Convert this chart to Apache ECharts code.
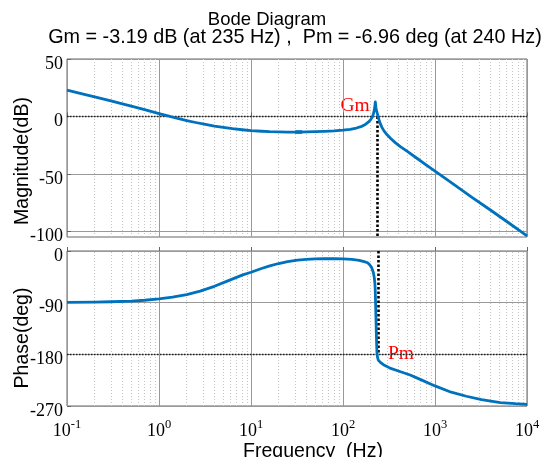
<!DOCTYPE html>
<html>
<head>
<meta charset="utf-8">
<script src="https://cdn.jsdelivr.net/npm/echarts@6/dist/echarts.min.js"></script>
<style>html,body{margin:0;padding:0;background:#fff;}#c{width:543px;height:457px;}</style>
</head>
<body>
<div id="c"></div>
<script>
// ---- data ----
const magFreq = [0.1, 0.15, 0.2, 0.3, 0.4, 0.5, 0.65, 0.8, 1.0, 1.25, 1.6, 2.0, 2.5, 3.2, 4.0, 5.0, 6.3, 8.0, 10, 13, 16, 20, 25, 32, 40, 50, 63, 80, 100, 120, 140, 160, 175, 190, 200, 208, 214, 218, 221, 223, 224.5, 226, 228, 231, 235, 240, 246, 255, 265, 280, 300, 330, 370, 420, 500, 630, 800, 1000, 1600, 2500, 4000, 6300, 10000];
const magDb   = [22.9, 19.5, 17.0, 13.5, 11.0, 9.0, 6.6, 4.6, 2.5, 0.4, -1.8, -3.6, -5.3, -7.0, -8.4, -9.6, -10.7, -11.6, -12.3, -12.9, -13.3, -13.5, -13.6, -13.6, -13.5, -13.3, -13.0, -12.6, -12.0, -11.2, -10.1, -8.6, -7.0, -4.8, -2.8, -0.5, 2.2, 4.8, 7.5, 10.5, 12.6, 10.5, 8.0, 5.5, 3.2, 0.3, -2.8, -6.5, -9.5, -12.8, -15.8, -19.2, -22.8, -26.3, -30.5, -36.2, -42.2, -47.7, -59.2, -70.2, -81.5, -92.6, -104];
const phaseFreq = [0.1, 0.2, 0.3, 0.5, 0.7, 1.0, 1.4, 2.0, 2.8, 4.0, 5.6, 8.0, 10, 13, 16, 20, 25, 32, 40, 50, 63, 80, 100, 125, 150, 170, 185, 195, 205, 214, 219, 222, 224, 226, 228, 230, 232, 234, 237, 242, 255, 275, 300, 324, 400, 537, 700, 1000, 1500, 2190, 3200, 5130, 7500, 10000];
const phaseDeg  = [-89.5, -89, -88.4, -87.2, -85.8, -83.5, -80.5, -76, -70, -61.5, -52, -42, -37, -30.5, -26, -21.8, -18.5, -16, -14.5, -13.7, -13.4, -13.5, -13.8, -14.6, -16.2, -18.5, -20.5, -24, -29, -38, -47, -56, -67, -90, -115, -140, -162, -177, -185, -190, -194, -198, -201, -204, -209, -216, -224, -235, -246, -253, -259, -264, -266, -267];
const magTicks = [50, 0, -50, -100];
const phaseTicks = [0, -90, -180, -270];
const freqTicks = [0.1, 1, 10, 100, 1000, 10000];
const gmFreq = 235;   // Hz
const pmFreq = 240;   // Hz
const markerPoint = [33, -13.6];
const titleLine1 = 'Bode Diagram';
const titleLine2 = 'Gm = -3.19 dB (at 235 Hz) ,  Pm = -6.96 deg (at 240 Hz)';

// ---- helpers ----
const minorFreqs = [];
for (let e = -1; e < 4; e++) for (let k = 2; k <= 9; k++) minorFreqs.push(k * Math.pow(10, e));
const minorLines = minorFreqs.map(v => ({ xAxis: v }));
const blue = '#0072BD';
const serif = 'Liberation Serif';

function xAxisCfg(idx, showLabels) {
  return {
    type: 'log', logBase: 10, gridIndex: idx, min: 0.1, max: 10000,
    axisLine: { show: false },
    axisTick: { show: true, inside: true, length: 4, lineStyle: { color: '#666' } },
    splitLine: { show: true, lineStyle: { color: '#999', width: 1 } },
    axisLabel: {
      show: showLabels, margin: 12,
      formatter: v => '{b|10}{s|' + Math.round(Math.log10(v)) + '}',
      rich: {
        b: { fontFamily: serif, fontSize: 18, color: '#000', lineHeight: 22, verticalAlign: 'bottom' },
        s: { fontFamily: serif, fontSize: 12.5, color: '#000', lineHeight: 12, verticalAlign: 'top' }
      }
    }
  };
}
function yLabel(ticks) {
  const o = {
    margin: 4,
    formatter: v => '{a|' + v + '}',
    rich: { a: { fontFamily: serif, fontSize: 18, color: '#000', padding: [10, 0, 0, 0] } }
  };
  if (ticks) o.customValues = ticks;
  return o;
}

const option = {
  animation: false,
  backgroundColor: '#fff',
  grid: [
    { left: 67, top: 59, width: 460, height: 178, show: true, borderColor: '#666', borderWidth: 1, backgroundColor: '#fff' },
    { left: 67, top: 251, width: 460, height: 155, show: true, borderColor: '#666', borderWidth: 1, backgroundColor: '#fff' }
  ],
  xAxis: [xAxisCfg(0, false), xAxisCfg(1, true)],
  yAxis: [
    {
      type: 'value', gridIndex: 0, min: -105, max: 50,
      axisLine: { show: false },
      axisTick: { show: true, inside: true, length: 4, customValues: magTicks, lineStyle: { color: '#666' } },
      axisLabel: yLabel(magTicks),
      splitLine: { show: true, lineStyle: { color: '#999' } }
    },
    {
      type: 'value', gridIndex: 1, min: -270, max: 0, interval: 90,
      axisLine: { show: false },
      axisTick: { show: true, inside: true, length: 4, lineStyle: { color: '#666' } },
      axisLabel: yLabel(null),
      splitLine: { show: true, lineStyle: { color: '#999' } }
    }
  ],
  graphic: [
    { type: 'text', x: 267, y: 10, style: { text: titleLine1, font: '18.5px "Liberation Sans"', fill: '#000', textAlign: 'center', textVerticalAlign: 'top' } },
    { type: 'text', x: 295, y: 28, style: { text: titleLine2, font: '19.8px "Liberation Sans"', fill: '#000', textAlign: 'center', textVerticalAlign: 'top' } },
    { type: 'text', x: 313, y: 442, style: { text: 'Frequency  (Hz)', font: '19.5px "Liberation Sans"', fill: '#000', textAlign: 'center', textVerticalAlign: 'top' } },
    { type: 'text', x: 23, y: 161, rotation: Math.PI / 2, style: { text: 'Magnitude(dB)', font: '19.5px "Liberation Sans"', fill: '#000', textAlign: 'center', textVerticalAlign: 'middle' } },
    { type: 'text', x: 23, y: 338, rotation: Math.PI / 2, style: { text: 'Phase(deg)', font: '19.5px "Liberation Sans"', fill: '#000', textAlign: 'center', textVerticalAlign: 'middle' } },
    { type: 'text', x: 355, y: 106, style: { text: 'Gm', font: '19.5px "Liberation Serif"', fill: '#ff0000', textAlign: 'center', textVerticalAlign: 'middle' } },
    { type: 'text', x: 401, y: 354, style: { text: 'Pm', font: '19.5px "Liberation Serif"', fill: '#ff0000', textAlign: 'center', textVerticalAlign: 'middle' } }
  ],
  series: [
    {
      type: 'line', xAxisIndex: 0, yAxisIndex: 0, z: 2, silent: true, symbol: 'none',
      data: [],
      markLine: { silent: true, symbol: 'none', label: { show: false },
        lineStyle: { color: '#c4c4c4', type: [1, 2], width: 1 }, data: minorLines }
    },
    {
      type: 'line', xAxisIndex: 1, yAxisIndex: 1, z: 2, silent: true, symbol: 'none',
      data: [],
      markLine: { silent: true, symbol: 'none', label: { show: false },
        lineStyle: { color: '#c4c4c4', type: [1, 2], width: 1 }, data: minorLines }
    },
    {
      type: 'line', xAxisIndex: 0, yAxisIndex: 0, z: 3, silent: true, symbol: 'none', data: [],
      markLine: { silent: true, symbol: 'none', label: { show: false }, animation: false,
        data: [
          { yAxis: 0, lineStyle: { color: '#222', type: [1.5, 1.5], width: 1.3 } },
          [{ coord: [gmFreq, 0], lineStyle: { color: '#000', type: [2.5, 2], width: 2.6 } }, { coord: [gmFreq, -105] }]
        ] }
    },
    {
      type: 'line', xAxisIndex: 1, yAxisIndex: 1, z: 3, silent: true, symbol: 'none', data: [],
      markLine: { silent: true, symbol: 'none', label: { show: false }, animation: false,
        data: [
          { yAxis: -180, lineStyle: { color: '#222', type: [1.5, 1.5], width: 1.3 } },
          [{ coord: [pmFreq, 0], lineStyle: { color: '#000', type: [2.5, 2], width: 2.6 } }, { coord: [pmFreq, -180] }]
        ] }
    },
    {
      type: 'line', xAxisIndex: 0, yAxisIndex: 0, z: 5, symbol: 'none', smooth: false,
      lineStyle: { color: blue, width: 2.8, join: 'round' },
      data: magFreq.map((f, i) => [f, magDb[i]])
    },
    {
      type: 'scatter', xAxisIndex: 0, yAxisIndex: 0, z: 6, symbol: 'rect', symbolSize: [7, 4],
      itemStyle: { color: blue }, data: [markerPoint]
    },
    {
      type: 'line', xAxisIndex: 1, yAxisIndex: 1, z: 5, symbol: 'none', smooth: false,
      lineStyle: { color: blue, width: 2.8, join: 'round' },
      data: phaseFreq.map((f, i) => [f, phaseDeg[i]])
    }
  ]
};
const chart = echarts.init(document.getElementById('c'), null, { renderer: 'canvas' });
chart.setOption(option);
</script>
</body>
</html>
